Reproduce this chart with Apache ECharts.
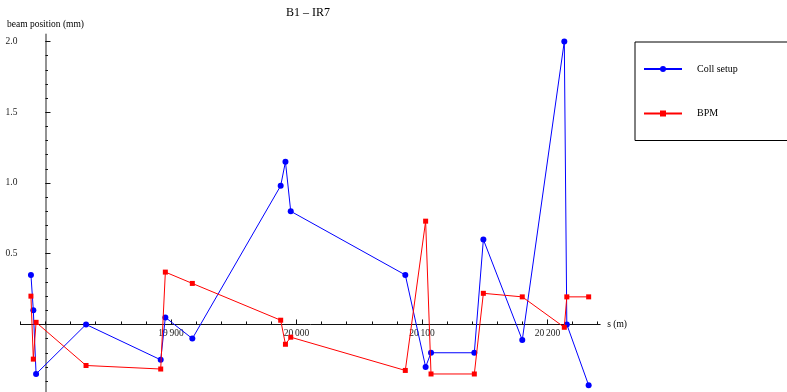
<!DOCTYPE html>
<html>
<head>
<meta charset="utf-8">
<script src="https://cdn.jsdelivr.net/npm/echarts@6/dist/echarts.min.js"></script>
<style>html,body{margin:0;padding:0;background:#fff;}#c{width:787px;height:392px;}</style>
</head>
<body>
<div id="c"></div>
<script>
// positions along the beam line (m)
const sPositions = [19788.4, 19790.3, 19792.5, 19832.3, 19891.8, 19895.5, 19917.0, 19987.4, 19991.2, 19995.4,
                    20086.7, 20102.9, 20107.2, 20141.7, 20148.9, 20179.9, 20213.4, 20215.4, 20232.8];
// beam position (mm)
const collSetup = [0.35, 0.10, -0.35, 0.00, -0.25, 0.05, -0.10, 0.98, 1.15, 0.80,
                   0.35, -0.30, -0.20, -0.20, 0.60, -0.11, 2.00, 0.00, -0.43];
const bpm = [0.20, -0.245, 0.015, -0.29, -0.315, 0.37, 0.29, 0.03, -0.14, -0.09,
             -0.325, 0.73, -0.35, -0.35, 0.22, 0.195, -0.02, 0.195, 0.195];
const xTickValues = [19900, 20000, 20100, 20200];
const yTickValues = [0.5, 1.0, 1.5, 2.0];
const seriesNames = ['Coll setup', 'BPM'];

const S0 = 19800; // vertical axis crosses here
const FONT = 'Liberation Serif';
const X_MIN = -20, X_MAX = 442, Y_MIN = -0.5, Y_MAX = 2.05;
const GRID = {left: 20.4, top: 34.4, width: 579.8, height: 360.8};
// distance from grid bottom up to the y = 0 line
const zeroOffset = GRID.height * (0 - Y_MIN) / (Y_MAX - Y_MIN);

const xMinor = [];
for (let v = 19780; v <= 20240; v += 20) xMinor.push(v - S0);
const yMinor = [];
for (let k = -5; k <= 20; k++) yMinor.push(k / 10);

function fmtS(v) {
  const s = String(Math.round(v + S0));
  return s.slice(0, s.length - 3) + '\u2009' + s.slice(-3);
}

const chart = echarts.init(document.getElementById('c'), null, {renderer: 'canvas'});
chart.setOption({
  animation: false,
  title: {
    text: 'B1 \u2013 IR7', left: 286, top: 6.5, padding: 0,
    textStyle: {fontFamily: FONT, fontSize: 12, fontWeight: 'normal', color: '#000'}
  },
  legend: {
    orient: 'vertical', left: 635, top: 42,
    padding: [22, 120, 22, 8],
    borderColor: '#000', borderWidth: 1,
    itemWidth: 38, itemHeight: 7.5, itemGap: 34.5,
    data: seriesNames,
    textStyle: {fontFamily: FONT, fontSize: 10, color: '#000', padding: [0, 0, 0, 10]}
  },
  grid: Object.assign({containLabel: false, outerBoundsMode: 'none'}, GRID),
  xAxis: [
    {
      type: 'value', position: 'bottom', min: X_MIN, max: X_MAX,
      axisLine: {onZero: true, onZeroAxisIndex: 0, lineStyle: {color: '#111', width: 1}},
      axisTick: {inside: true, length: 5, customValues: xTickValues.map(v => v - S0), lineStyle: {color: '#111'}},
      axisLabel: {show: false},
      splitLine: {show: false},
      name: 's (m)', nameLocation: 'end', nameGap: 7,
      nameTextStyle: {fontFamily: FONT, fontSize: 9.5, color: '#000'}
    },
    {
      type: 'value', position: 'bottom', min: X_MIN, max: X_MAX,
      axisLine: {show: false, onZero: true, onZeroAxisIndex: 0},
      axisTick: {inside: true, length: 3, customValues: xMinor, lineStyle: {color: '#111'}},
      axisLabel: {show: false},
      splitLine: {show: false}
    },
    {
      type: 'value', position: 'bottom', min: X_MIN, max: X_MAX,
      offset: -zeroOffset,
      axisLine: {show: false, onZero: false},
      axisTick: {show: false},
      axisLabel: {customValues: xTickValues.map(v => v - S0), formatter: fmtS, margin: 4, hideOverlap: false,
                  fontFamily: FONT, fontSize: 9.5, color: '#222'},
      splitLine: {show: false}
    }
  ],
  yAxis: [
    {
      type: 'value', position: 'left', min: Y_MIN, max: Y_MAX,
      axisLine: {onZero: true, onZeroAxisIndex: 0, lineStyle: {color: '#777', width: 1.6}},
      axisTick: {inside: true, length: 5, customValues: [-0.5, 0, 0.5, 1.0, 1.5, 2.0], lineStyle: {color: '#111'}},
      axisLabel: {customValues: yTickValues, formatter: v => v.toFixed(1), margin: 3, hideOverlap: false,
                  fontFamily: FONT, fontSize: 9.5, color: '#222'},
      splitLine: {show: false},
      name: 'beam position (mm)', nameLocation: 'end', nameGap: 5,
      nameTextStyle: {fontFamily: FONT, fontSize: 9.5, color: '#000'}
    },
    {
      type: 'value', position: 'left', min: Y_MIN, max: Y_MAX,
      axisLine: {show: false, onZero: true, onZeroAxisIndex: 0},
      axisTick: {inside: true, length: 2.5, customValues: yMinor, lineStyle: {color: '#111'}},
      axisLabel: {show: false},
      splitLine: {show: false}
    }
  ],
  series: [
    {
      name: seriesNames[0], type: 'line', xAxisIndex: 0, yAxisIndex: 0,
      data: sPositions.map((s, i) => [s - S0, collSetup[i]]),
      symbol: 'circle', symbolSize: 6, clip: false, z: 2,
      lineStyle: {color: '#0000ff', width: 1}, itemStyle: {color: '#0000ff'}
    },
    {
      name: seriesNames[1], type: 'line', xAxisIndex: 0, yAxisIndex: 0,
      data: sPositions.map((s, i) => [s - S0, bpm[i]]),
      symbol: 'rect', symbolSize: 5, clip: false, z: 3,
      lineStyle: {color: '#ff0000', width: 1}, itemStyle: {color: '#ff0000'}
    }
  ]
});
</script>
</body>
</html>
